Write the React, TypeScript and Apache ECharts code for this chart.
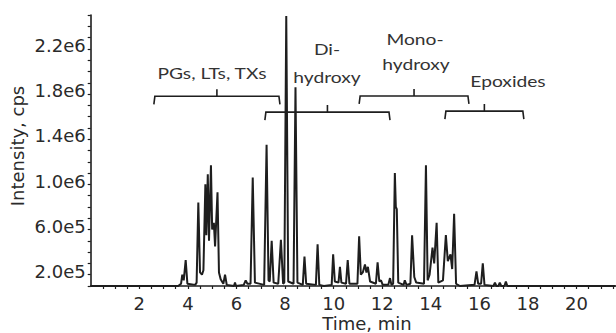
import React, { useEffect, useRef } from 'react';
import * as echarts from 'echarts';

// Chromatogram trace (retention time in minutes, intensity in cps)
const timeMin = [
  0, 3.6, 3.72, 3.77, 3.83, 3.91, 3.98, 4.3, 4.36, 4.43, 4.5, 4.58, 4.64, 4.72, 4.76, 4.82, 4.87, 4.95, 5.0, 5.07,
  5.12, 5.22, 5.28, 5.35, 5.46, 5.53, 5.6, 5.9, 5.94, 5.98, 6.3, 6.38, 6.45, 6.58, 6.67, 6.76, 7.14, 7.24, 7.32, 7.37,
  7.45, 7.53, 7.72, 7.83, 7.92, 7.97, 8.05, 8.13, 8.35, 8.43, 8.51, 8.73, 8.8, 8.87, 9.27, 9.34, 9.41, 9.6, 9.92, 9.98,
  10.05, 10.2, 10.26, 10.32, 10.51, 10.58, 10.65, 10.98, 11.05, 11.12, 11.2, 11.29, 11.35, 11.41, 11.5, 11.74, 11.81, 11.88, 11.95, 12.02,
  12.25, 12.32, 12.38, 12.45, 12.52, 12.56, 12.6, 12.66, 12.88, 12.93, 13.0, 13.16, 13.23, 13.32, 13.4, 13.72, 13.8, 13.87, 13.95, 14.07,
  14.14, 14.24, 14.31, 14.5, 14.62, 14.7, 14.81, 14.88, 14.96, 15.04, 15.2, 15.8, 15.88, 15.95, 16.07, 16.14, 16.21, 16.58, 16.64, 16.7,
  16.78, 16.84, 16.9, 17.03, 17.09, 17.15, 21.6,
];
const intensityCps = [
  0, 0, 2e4, 1.0e5, 5e4, 2.3e5, 2e4, 1e4, 3e4, 7.4e5, 1.2e5, 1.0e5, 1.4e5, 9.0e5, 4.5e5, 9.9e5, 4.0e5, 1.07e6, 5.0e5, 5.6e5,
  3.5e5, 8.3e5, 1.2e5, 6e4, 2e4, 1.0e5, 1e4, 0, 3e4, 0, 1e4, 5e4, 2e4, 2e4, 9.6e5, 3e4, 1e4, 1.25e6, 5e4, 4e4,
  4.0e5, 3e4, 2e4, 4.1e5, 2e4, 3e4, 2.39e6, 4e4, 2e4, 1.76e6, 3e4, 1e4, 2.6e5, 2e4, 1e4, 3.7e5, 1e4, 0, 1e4, 2.8e5,
  4e4, 3e4, 1.7e5, 3e4, 2e4, 2.3e5, 2e4, 2e4, 4.4e5, 1.0e5, 1.2e5, 1.9e5, 1.2e5, 1.7e5, 4e4, 2e4, 2.1e5, 4e4, 5e4, 1e4,
  1e4, 7e4, 1e4, 2e4, 1.0e6, 7.0e5, 6.8e5, 3e4, 1e4, 5e4, 1e4, 2e4, 4.5e5, 8e4, 3e4, 2e4, 1.07e6, 5e4, 1.0e5, 3.4e5,
  2.0e5, 5.6e5, 3e4, 5e4, 4.5e5, 2.2e5, 2.8e5, 1.5e5, 6.4e5, 2e4, 0, 1e4, 1.3e5, 2e4, 2e4, 2.0e5, 1e4, 0, 3e4, 0,
  0, 3e4, 0, 0, 4e4, 0, 0,
];

// Axis tick labels
const yLabelValues = [2e5, 6e5, 1e6, 1.4e6, 1.8e6, 2.2e6];
const yLabelTexts = ['2.0e5', '6.0e5', '1.0e6', '1.4e6', '1.8e6', '2.2e6'];
const xLabelValues = [2, 4, 6, 8, 10, 12, 14, 16, 18, 20];

// Compound-class brackets (time range and height level)
const bracketStart = [2.6, 7.17, 11.05, 14.58];
const bracketEnd = [7.79, 12.32, 15.57, 17.83];
const bracketLevel = [1.68e6, 1.54e6, 1.683e6, 1.549e6];

// Annotation texts
const annotationTexts = ['PGs, LTs, TXs', 'Di-', 'hydroxy', 'Mono-', 'hydroxy', 'Epoxides'];
const xTitle = 'Time, min';
const yTitle = 'Intensity, cps';

const AXIS_FONT = '"DejaVu Sans", sans-serif';
const TEXT_COLOR = '#2a2a2a';
const INK = '#1e1e1e';

export default function App() {
  const ref = useRef<HTMLDivElement>(null);

  useEffect(() => {
    if (!ref.current) return;
    const chart = echarts.init(ref.current, undefined, { renderer: 'svg' });

    const trace = timeMin.map((t, i) => [t, intensityCps[i]]);
    const brackets = bracketStart.map((s, i) => [s, bracketEnd[i], bracketLevel[i]]);

    const annPos = [
      [212, 73],
      [327, 49],
      [327, 77],
      [415, 39],
      [416, 64],
      [508, 81],
    ];

    const option: any = {
      animation: false,
      grid: { left: 90.7, right: 0, top: 15, bottom: 47 },
      xAxis: {
        type: 'value',
        min: 0,
        max: 21.6,
        interval: 0.5,
        splitLine: { show: false },
        axisLine: { show: true, onZero: false, lineStyle: { color: INK, width: 1.6 } },
        axisTick: { show: true, inside: false, length: 3, lineStyle: { color: INK, width: 1.2 } },
        axisLabel: {
          margin: 10,
          color: TEXT_COLOR,
          fontFamily: AXIS_FONT,
          fontSize: 18,
          lineHeight: 15,
          showMinLabel: false,
          showMaxLabel: false,
          formatter: (v: number) => {
            const r = Math.round(v * 100) / 100;
            return xLabelValues.indexOf(r) >= 0 ? String(r) : '';
          },
        },
      },
      yAxis: {
        type: 'value',
        min: 0,
        max: 2.4e6,
        interval: 1e5,
        splitLine: { show: false },
        axisLine: { show: true, onZero: false, lineStyle: { color: INK, width: 1.6 } },
        axisTick: { show: true, inside: false, length: 3, lineStyle: { color: INK, width: 1.2 } },
        axisLabel: {
          margin: 5,
          color: TEXT_COLOR,
          fontFamily: AXIS_FONT,
          fontSize: 18,
          verticalAlign: 'top',
          lineHeight: 16,
          formatter: (v: number) => {
            const i = yLabelValues.findIndex((a) => Math.abs(a - v) < 1);
            return i >= 0 ? yLabelTexts[i] : '';
          },
        },
      },
      series: [
        {
          type: 'line',
          data: trace,
          showSymbol: false,
          symbol: 'none',
          lineStyle: { color: INK, width: 2 },
          z: 2,
        },
        {
          type: 'custom',
          data: brackets,
          encode: { x: [0, 1], y: 2 },
          z: 3,
          silent: true,
          renderItem: (_params: any, api: any) => {
            const s = api.coord([api.value(0), api.value(2)]);
            const e = api.coord([api.value(1), api.value(2)]);
            const mx = (s[0] + e[0]) / 2;
            const y = s[1];
            return {
              type: 'polyline',
              shape: {
                points: [
                  [s[0], y + 8],
                  [s[0] + 1, y],
                  [mx, y],
                  [mx, y - 7],
                  [mx, y],
                  [e[0] - 1, y],
                  [e[0], y + 8],
                ],
              },
              style: { stroke: INK, lineWidth: 1.6, fill: null },
            };
          },
        },
      ],
      graphic: [
        {
          type: 'text',
          x: 17,
          y: 146,
          rotation: Math.PI / 2,
          style: {
            text: yTitle,
            font: `18px ${AXIS_FONT}`,
            fill: TEXT_COLOR,
            align: 'center',
            verticalAlign: 'middle',
            textAlign: 'center',
            textVerticalAlign: 'middle',
          },
        },
        {
          type: 'text',
          x: 367,
          y: 323,
          style: {
            text: xTitle,
            font: `18px ${AXIS_FONT}`,
            lineHeight: 15,
            fill: TEXT_COLOR,
            align: 'center',
            verticalAlign: 'middle',
            textAlign: 'center',
            textVerticalAlign: 'middle',
          },
        },
        ...annotationTexts.map((t, i) => ({
          type: 'text',
          x: annPos[i][0],
          y: annPos[i][1],
          scaleX: 1.2,
          style: {
            text: t,
            font: '16px Lato, sans-serif',
            fill: '#333333',
            align: 'center',
            verticalAlign: 'middle',
            textAlign: 'center',
            textVerticalAlign: 'middle',
          },
        })),
      ],
    };

    chart.setOption(option);
    return () => chart.dispose();
  }, []);

  return (
    <div
      ref={ref}
      style={{ position: 'fixed', left: 0, top: 0, width: 616, height: 333, background: '#fff' }}
    />
  );
}
